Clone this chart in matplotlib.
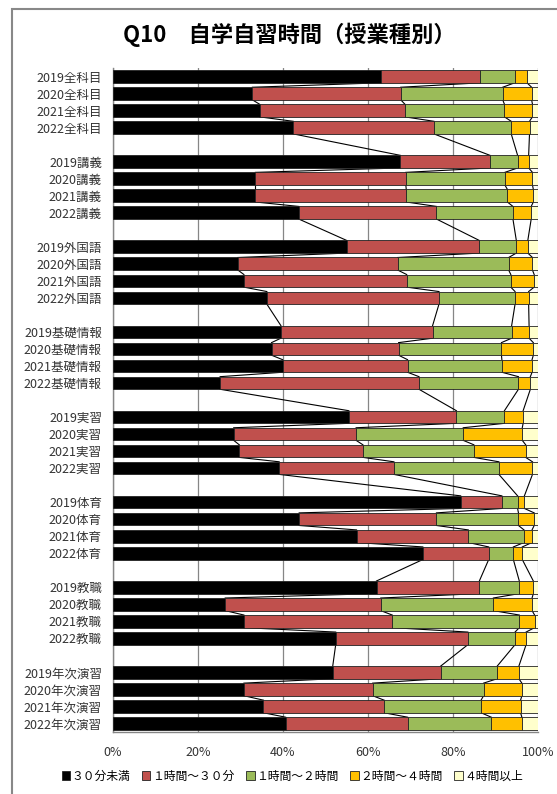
import numpy as np
import matplotlib
matplotlib.use("Agg")
import matplotlib.pyplot as plt
from matplotlib.patches import Rectangle

plt.rcParams['font.family'] = ['Noto Sans CJK JP', 'DejaVu Sans']

# ---------------------------
# Data (percent)
# ---------------------------
years = ["2019", "2020", "2021", "2022"]
subjects = ["全科目", "講義", "外国語", "基礎情報", "実習", "体育", "教職", "年次演習"]

under30 = [63.0, 32.8, 34.5, 42.4,
           67.6, 33.5, 33.5, 43.7,
           55.0, 29.4, 30.8, 36.2,
           39.5, 37.3, 39.9, 25.2,
           55.5, 28.4, 29.7, 39.1,
           81.8, 43.8, 57.3, 72.9,
           62.0, 26.4, 30.8, 52.4,
           51.7, 30.8, 35.4, 40.6]
h30_1 = [23.4, 34.9, 34.2, 33.1,
         21.1, 35.4, 35.5, 32.4,
         31.2, 37.6, 38.3, 40.5,
         35.7, 29.9, 29.4, 46.8,
         25.3, 28.8, 29.1, 27.0,
         9.7, 32.3, 26.3, 15.5,
         24.2, 36.6, 34.9, 31.1,
         25.4, 30.3, 28.4, 28.7]
h1_2 = [8.1, 24.0, 23.4, 18.2,
        6.5, 23.3, 23.8, 18.0,
        8.7, 26.1, 24.5, 17.9,
        18.6, 24.2, 22.2, 23.4,
        11.3, 25.2, 26.1, 24.7,
        3.7, 19.3, 13.1, 5.8,
        9.4, 26.5, 29.9, 11.1,
        13.3, 26.1, 22.8, 19.7]
h2_4 = [2.9, 6.8, 6.6, 4.3,
        2.6, 6.5, 6.1, 4.3,
        2.7, 5.6, 5.5, 3.2,
        4.1, 7.5, 7.1, 2.8,
        4.4, 13.9, 12.2, 7.9,
        1.6, 3.7, 1.9, 2.1,
        3.3, 9.1, 3.6, 2.6,
        5.1, 9.0, 9.3, 7.2]
over4 = [2.6, 1.5, 1.3, 2.0,
         2.2, 1.3, 1.1, 1.6,
         2.4, 1.3, 0.9, 2.2,
         2.1, 1.1, 1.4, 1.8,
         3.5, 3.7, 2.9, 1.3,
         3.2, 0.9, 1.4, 3.7,
         1.1, 1.4, 0.8, 2.8,
         4.5, 3.8, 4.1, 3.8]

series_names = ["３０分未満", "１時間～３０分", "１時間～２時間", "２時間～４時間", "４時間以上"]
colors = ["#000000", "#C0504D", "#9BBB59", "#FFC000", "#FFFFCC"]

# ---------------------------
# Plot
# ---------------------------
fig = plt.figure(figsize=(5.57, 7.94), dpi=100)
ax = fig.add_axes([113 / 557, 1 - 732 / 794, 425 / 557, 664 / 794])

labels = [y + s for s in subjects for y in years]
pos = np.array([g * 5 + k for g in range(len(subjects)) for k in range(len(years))])

vals = np.array([under30, h30_1, h1_2, h2_4, over4], dtype=float)
vals = vals / vals.sum(axis=0) * 100
cum = np.cumsum(vals, axis=0)

bar_h = 0.74
left = np.zeros(len(labels))
for i in range(5):
    ax.barh(pos, vals[i], left=left, height=bar_h, color=colors[i],
            edgecolor="#222222", linewidth=0.6, zorder=3)
    left = left + vals[i]

# series lines between consecutive bars
for i in range(4):
    for j in range(len(pos) - 1):
        ax.plot([cum[i][j], cum[i][j + 1]],
                [pos[j] + bar_h / 2, pos[j + 1] - bar_h / 2],
                color="black", lw=0.8, zorder=2)

ax.set_xlim(0, 100)
ax.set_ylim(pos[-1] + 0.5, -0.5)
ax.set_yticks(pos)
ax.set_yticklabels(labels, fontsize=9, color="#333333")
ax.set_xticks(np.arange(0, 101, 20))
ax.set_xticklabels([f"{t}%" for t in range(0, 101, 20)], fontsize=9, color="#333333")
ax.tick_params(length=0, pad=8)
ax.tick_params(axis="x", pad=10)
ax.xaxis.grid(True, color="#868686", lw=0.9, zorder=0)
ax.set_axisbelow(True)
for s in ["top", "right"]:
    ax.spines[s].set_visible(False)
for s in ["left", "bottom"]:
    ax.spines[s].set_color("#868686")
    ax.spines[s].set_linewidth(1.0)

handles = [Rectangle((0, 0), 1, 1, facecolor=c, edgecolor="#222222", lw=0.6) for c in colors]
fig.legend(handles, series_names, loc="center", bbox_to_anchor=(0.525, 1 - 776 / 794),
           ncol=5, frameon=False, fontsize=8.5, handlelength=0.7, handleheight=0.7,
           handletextpad=0.15, columnspacing=1.0, prop={'size': 8.5})

fig.text(0.52, 1 - 35 / 794, "Q10　自学自習時間（授業種別）", ha="center", va="center",
         fontsize=16, fontweight="bold")

# outer chart border
fig.patches.append(Rectangle((12 / 557, -0.1), 1.2, 1 - 8.5 / 794 + 0.1,
                             transform=fig.transFigure, fill=False,
                             edgecolor="#888888", lw=1.5))

fig.savefig("out.png", dpi=100)
